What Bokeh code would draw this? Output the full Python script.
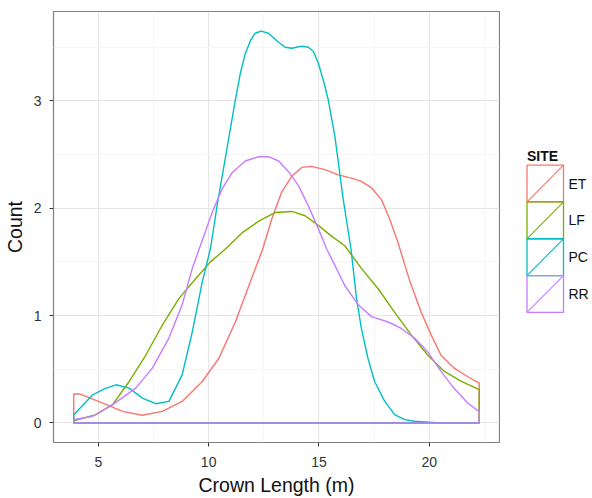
from bokeh.plotting import figure
from bokeh.models import Range1d, FixedTicker, ColumnDataSource
from bokeh.layouts import row
from bokeh.core.properties import value
from bokeh.embed import file_html
from bokeh.resources import INLINE

# ---- data ----
sites = ["ET", "LF", "PC", "RR"]
colors = ["#F8766D", "#7CAE00", "#00BFC4", "#C77CFF"]
legend_title = "SITE"

et_x = [3.89, 4.15, 5.20, 6.10, 7.00, 7.90, 8.80, 9.71, 10.46, 11.21, 11.81, 12.45, 12.86,
        13.31, 13.77, 14.22, 14.67, 15.27, 15.87, 16.47, 16.92, 17.38, 17.83, 18.20, 18.58,
        19.10, 19.63, 20.08, 20.53, 21.13, 21.74, 22.26]
et_y = [0.27, 0.27, 0.185, 0.108, 0.071, 0.108, 0.20, 0.386, 0.60, 0.94, 1.27, 1.62, 1.90,
        2.15, 2.30, 2.38, 2.39, 2.36, 2.31, 2.28, 2.25, 2.19, 2.08, 1.90, 1.68,
        1.33, 1.03, 0.82, 0.63, 0.51, 0.43, 0.37]

lf_x = [3.89, 4.89, 5.65, 6.40, 7.15, 7.90, 8.66, 9.40, 10.08, 10.76, 11.51, 12.27, 13.01,
        13.77, 14.37, 14.97, 15.57, 16.17, 16.92, 17.68, 18.43, 19.18, 19.93, 20.68, 21.43, 22.26]
lf_y = [0.02, 0.077, 0.17, 0.386, 0.63, 0.91, 1.16, 1.34, 1.50, 1.62, 1.77, 1.88, 1.96,
        1.97, 1.93, 1.84, 1.74, 1.65, 1.44, 1.25, 1.03, 0.82, 0.63, 0.48, 0.39, 0.31]

pc_x = [3.89, 4.75, 5.30, 5.80, 6.40, 7.00, 7.60, 8.20, 8.80, 9.26, 9.71, 10.08, 10.38,
        10.91, 11.21, 11.44, 11.66, 11.89, 12.11, 12.38, 12.71, 13.09, 13.46, 13.77, 14.22,
        14.52, 14.75, 14.97, 15.20, 15.42, 15.72, 16.10, 16.45, 16.70, 16.92, 17.22, 17.52,
        17.98, 18.43, 18.88, 19.33, 20.50, 22.26]
pc_y = [0.077, 0.262, 0.32, 0.355, 0.324, 0.231, 0.179, 0.201, 0.447, 0.849, 1.312, 1.62, 2.02,
        2.65, 3.01, 3.26, 3.44, 3.56, 3.63, 3.65, 3.63, 3.56, 3.50, 3.49, 3.51,
        3.50, 3.46, 3.35, 3.19, 3.01, 2.67, 2.08, 1.62, 1.16, 0.88, 0.60, 0.386,
        0.20, 0.077, 0.031, 0.016, 0.0, 0.0]

rr_x = [3.89, 4.75, 5.65, 6.70, 7.45, 8.20, 8.80, 9.26, 9.71, 10.16, 10.61, 11.06, 11.66,
        12.27, 12.71, 13.17, 13.62, 14.07, 14.52, 14.97, 15.35, 15.57, 16.17, 16.78, 17.38,
        18.13, 18.73, 19.33, 19.93, 20.53, 21.13, 21.74, 22.26]
rr_y = [0.03, 0.062, 0.17, 0.324, 0.51, 0.79, 1.10, 1.44, 1.70, 1.96, 2.18, 2.33, 2.44,
        2.48, 2.48, 2.44, 2.34, 2.21, 2.02, 1.81, 1.62, 1.53, 1.28, 1.10, 0.99,
        0.94, 0.88, 0.79, 0.66, 0.48, 0.32, 0.185, 0.105]

series_x = [et_x, lf_x, pc_x, rr_x]
series_y = [et_y, lf_y, pc_y, rr_y]

x_ticks = [5, 10, 15, 20]
x_minor = [2.5, 7.5, 12.5, 17.5, 22.5]
y_ticks = [0, 1, 2, 3]
y_minor = [0.5, 1.5, 2.5, 3.5]

# ---- ranges with ggplot-like 5% expansion ----
all_x = [v for s in series_x for v in s]
all_y = [v for s in series_y for v in s] + [0.0]
xlo, xhi = min(all_x), max(all_x)
ylo, yhi = min(all_y), max(all_y)
xr = Range1d(xlo - 0.05 * (xhi - xlo), xhi + 0.05 * (xhi - xlo))
yr = Range1d(ylo - 0.05 * (yhi - ylo), yhi + 0.05 * (yhi - ylo))

FONT = "Liberation Sans"
TEXT_DARK = "#111111"
FIG_H = 498
TOP, BOTTOM = 11, 55

p = figure(width=500, height=FIG_H, x_range=xr, y_range=yr,
           output_backend="svg", toolbar_location=None,
           min_border_left=52, min_border_right=1, min_border_top=TOP, min_border_bottom=BOTTOM,
           background_fill_color="white", border_fill_color="white")

p.outline_line_color = "#7F7F7F"
p.outline_line_width = 1.2

p.xaxis.ticker = FixedTicker(ticks=x_ticks, minor_ticks=x_minor)
p.yaxis.ticker = FixedTicker(ticks=y_ticks, minor_ticks=y_minor)

for ax in (p.xaxis, p.yaxis):
    ax.axis_line_color = None
    ax.major_tick_line_color = "#333333"
    ax.major_tick_out = 4
    ax.major_tick_in = 0
    ax.minor_tick_line_color = None
    ax.major_label_text_font = FONT
    ax.major_label_text_font_size = "14px"
    ax.major_label_text_color = "#333333"
    ax.axis_label_text_font = FONT
    ax.axis_label_text_font_size = "19.5px"
    ax.axis_label_text_font_style = "normal"
    ax.axis_label_text_color = TEXT_DARK

p.xaxis.axis_label = "Crown Length (m)"
p.yaxis.axis_label = "Count"
p.xaxis.major_label_standoff = 10
p.xaxis.axis_label_standoff = 4
p.yaxis.major_label_standoff = 8
p.yaxis.axis_label_standoff = 5

for g in (p.xgrid, p.ygrid):
    g.grid_line_color = "#E5E5E5"
    g.grid_line_width = 1.2
    g.minor_grid_line_color = "#F6F6F6"
    g.minor_grid_line_width = 1

for name, col, xs, ys in zip(sites, colors, series_x, series_y):
    # density outline closed along the baseline, as ggplot's geom_density draws it
    px = list(xs) + [xs[-1], xs[0]]
    py = list(ys) + [0.0, 0.0]
    p.patch(px, py, fill_color=None, line_color=col, line_width=1.4, line_join="round")

# ---- legend panel (ggplot-style keys: box with a diagonal) ----
n = len(sites)
row_y = [n - i - 0.5 for i in range(n)]           # one row per site, top to bottom
ROW_PX = 36.9
KEY_L, KEY_W = 26.5, 36.5
LEG_W = 92
KEY_TOP = 165          # page y of the first key's top edge
TITLE_BASE = 156       # page y of the legend title's baseline
frame_h = FIG_H - TOP - BOTTOM
y_end = n + (KEY_TOP - TOP) / ROW_PX
y_start = y_end - frame_h / ROW_PX

lg = figure(width=LEG_W, height=FIG_H, x_range=Range1d(0, LEG_W), y_range=Range1d(y_start, y_end),
            x_axis_type=None, y_axis_type=None, output_backend="svg", toolbar_location=None,
            min_border_left=0, min_border_right=0, min_border_top=TOP,
            min_border_bottom=BOTTOM, outline_line_color=None,
            background_fill_color="white", border_fill_color="white")

src = ColumnDataSource(dict(
    y=row_y, site=sites, color=colors,
    y0=[v - 0.5 for v in row_y], y1=[v + 0.5 for v in row_y],
))
lg.rect(x=KEY_L + KEY_W / 2, y="y", width=KEY_W, height=1, source=src,
        fill_color=None, line_color="color", line_width=1.3)
lg.segment(x0=KEY_L, y0="y0", x1=KEY_L + KEY_W, y1="y1", source=src,
           line_color="color", line_width=1.1)
lg.text(x=KEY_L + KEY_W + 5, y="y", text="site", source=src,
        text_font=value(FONT), text_font_size="14px", text_color=TEXT_DARK,
        text_baseline="middle", text_align="left")
lg.text(x=[KEY_L], y=[y_end - (TITLE_BASE - TOP) / ROW_PX], text=[legend_title],
        text_font=value(FONT), text_font_size="14px", text_font_style="bold",
        text_color=TEXT_DARK, text_baseline="alphabetic", text_align="left")

layout = row(p, lg, spacing=0)
open("out.html", "w").write(file_html(layout, INLINE))
